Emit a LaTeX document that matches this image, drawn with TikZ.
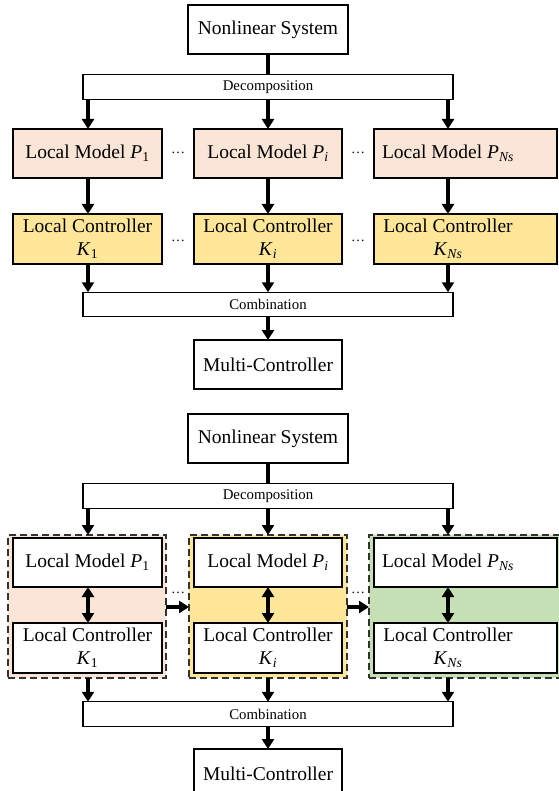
\documentclass[tikz,border=0pt]{standalone}
\usepackage{fontspec}
\setmainfont{Liberation Serif}
\usetikzlibrary{arrows.meta}
\definecolor{peach}{HTML}{FBE5D6}
\definecolor{gold}{HTML}{FFE699}
\definecolor{lgreen}{HTML}{C5E0B4}
\tikzset{
  box/.style={draw=black, line width=1.2pt, inner sep=0pt, outer sep=0pt, align=center,
    font=\fontsize{19.5}{23}\selectfont},
  wbox/.style={box, minimum width=148pt, minimum height=49pt},
  bar/.style={draw=black, line width=1.2pt, inner sep=0pt, outer sep=0pt,
    minimum width=370pt, minimum height=24.5pt, font=\fontsize{14.8}{17}\selectfont},
  cont/.style={draw=black!80, line width=1.4pt, dash pattern=on 7pt off 4pt, inner sep=0pt, outer sep=0pt},
  arr/.style={line width=3.4pt, -{Triangle[length=10pt,width=12pt]}},
  darr/.style={line width=3.4pt, {Triangle[length=10pt,width=12pt]}-{Triangle[length=10pt,width=12pt]}},
  ln/.style={line width=3.4pt},
  dots/.style={inner sep=0pt, font=\fontsize{14}{16}\selectfont}
}
\newcommand{\Pone}{\textit{P}\textsubscript{1}}
\newcommand{\Pii}{\textit{P}\textsubscript{\textit{i}}}
\newcommand{\PNs}{\textit{P}\textsubscript{\textit{Ns}}}
\newcommand{\Kone}{\textit{K}\textsubscript{1}}
\newcommand{\Kii}{\textit{K}\textsubscript{\textit{i}}}
\newcommand{\KNs}{\textit{K}\textsubscript{\textit{Ns}}}
\begin{document}
\begin{tikzpicture}[x=1pt,y=-1pt]
\useasboundingbox (0,0) rectangle (558,791);
\fill[white] (0,0) rectangle (558,791);
%================ TOP ================
\node[box, minimum width=160pt, minimum height=49pt] (ns1) at (268,29.5) {Nonlinear System};
\node[bar] (dec1) at (268,87) {Decomposition};
\node[wbox, fill=peach, minimum width=149pt] (ma) at (87.5,153.5) {Local Model \Pone};
\node[wbox, fill=peach] (mb) at (268,153.5) {Local Model \Pii};
\node[box, fill=peach, minimum width=183pt, minimum height=49pt] (mc) at (465.5,153.5) {Local Model \PNs\hspace*{35pt}};
\node[wbox, fill=gold, minimum width=149pt, minimum height=50pt] (ca) at (87.5,239) {Local Controller\\\Kone};
\node[wbox, fill=gold, minimum height=50pt] (cb) at (268,239) {Local Controller\\\Kii};
\node[box, fill=gold, minimum width=183pt, minimum height=50pt] (cc) at (465.5,239) {Local Controller\hspace*{35pt}\\\KNs\hspace*{35pt}};
\node[dots] (d1) at (178,153) {…};
\node[dots] (d2) at (358,153) {…};
\node[dots] (d3) at (178,241) {…};
\node[dots] (d4) at (358,241) {…};
\node[bar] (comb1) at (268,304.5) {Combination};
\node[wbox] (mc1) at (268,364.5) {Multi-Controller};
\coordinate (xa) at (88,0);
\coordinate (xb) at (268,0);
\coordinate (xc) at (448,0);
\draw[ln] (ns1.south) -- (dec1.north);
\draw[arr] (dec1.south -| xa) -- (ma.north -| xa);
\draw[arr] (dec1.south -| xb) -- (mb.north -| xb);
\draw[arr] (dec1.south -| xc) -- (mc.north -| xc);
\draw[arr] (ma.south -| xa) -- (ca.north -| xa);
\draw[arr] (mb.south -| xb) -- (cb.north -| xb);
\draw[arr] (mc.south -| xc) -- (cc.north -| xc);
\draw[arr] (ca.south -| xa) -- (comb1.north -| xa);
\draw[arr] (cb.south -| xb) -- (comb1.north -| xb);
\draw[arr] (cc.south -| xc) -- (comb1.north -| xc);
\draw[arr] (comb1.south) -- (mc1.north);
%================ BOTTOM ================
\node[box, minimum width=160pt, minimum height=49pt] (ns2) at (268,438.5) {Nonlinear System};
\node[bar] (dec2) at (268,496) {Decomposition};
\node[cont, fill=peach, minimum width=158pt, minimum height=143pt] (ka) at (87,606.5) {};
\node[cont, fill=gold, minimum width=158pt, minimum height=143pt] (kb) at (268,606.5) {};
\node[cont, fill=lgreen, minimum width=200pt, minimum height=143pt] (kc) at (469,606.5) {};
\node[wbox, fill=white, minimum width=149pt] (pa) at (87.5,562.5) {Local Model \Pone};
\node[wbox, fill=white] (pb) at (268,562.5) {Local Model \Pii};
\node[box, fill=white, minimum width=183pt, minimum height=49pt] (pc) at (465.5,562.5) {Local Model \PNs\hspace*{35pt}};
\node[wbox, fill=white, minimum width=149pt, minimum height=50pt] (qa) at (87.5,648) {Local Controller\\\Kone};
\node[wbox, fill=white, minimum height=50pt] (qb) at (268,648) {Local Controller\\\Kii};
\node[box, fill=white, minimum width=183pt, minimum height=50pt] (qc) at (465.5,648) {Local Controller\hspace*{35pt}\\\KNs\hspace*{35pt}};
\node[dots] (d5) at (178,593) {…};
\node[dots] (d6) at (358,593) {…};
\node[bar] (comb2) at (268,714) {Combination};
\node[wbox] (mc2) at (268,773.5) {Multi-Controller};
\draw[ln] (ns2.south) -- (dec2.north);
\draw[arr] (dec2.south -| xa) -- (ka.north -| xa);
\draw[arr] (dec2.south -| xb) -- (kb.north -| xb);
\draw[arr] (dec2.south -| xc) -- (kc.north -| xc);
\draw[darr] (pa.south -| xa) -- (qa.north -| xa);
\draw[darr] (pb.south -| xb) -- (qb.north -| xb);
\draw[darr] (pc.south -| xc) -- (qc.north -| xc);
\coordinate (yh) at (0,607);
\draw[arr] (ka.east |- yh) -- (kb.west |- yh);
\draw[arr] (kb.east |- yh) -- (kc.west |- yh);
\draw[arr] (ka.south -| xa) -- (comb2.north -| xa);
\draw[arr] (kb.south -| xb) -- (comb2.north -| xb);
\draw[arr] (kc.south -| xc) -- (comb2.north -| xc);
\draw[arr] (comb2.south) -- (mc2.north);
\end{tikzpicture}
\end{document}
